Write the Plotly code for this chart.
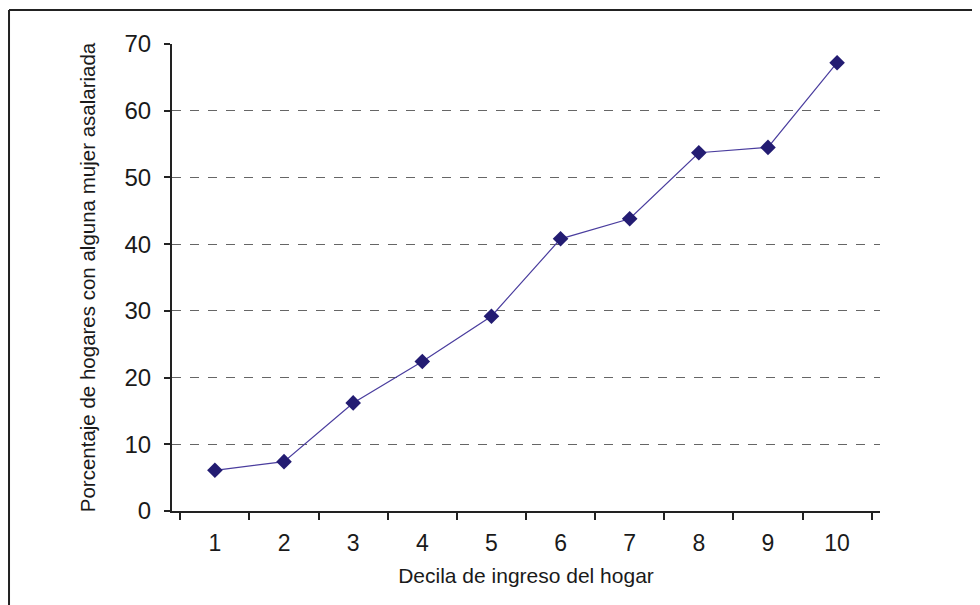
import plotly.graph_objects as go

deciles = ["1", "2", "3", "4", "5", "6", "7", "8", "9", "10"]
porcentaje = [6.1, 7.4, 16.2, 22.4, 29.2, 40.8, 43.8, 53.7, 54.5, 67.2]
y_ticks = [0, 10, 20, 30, 40, 50, 60, 70]

fig = go.Figure()
fig.add_trace(go.Scatter(
    x=deciles, y=porcentaje, mode="lines+markers",
    line=dict(color="#4A3D9E", width=1.2),
    marker=dict(symbol="diamond", size=12, color="#231C72"),
    showlegend=False, cliponaxis=False,
))

font = "Liberation Sans, Arial, sans-serif"
fig.update_layout(
    width=980, height=605,
    margin=dict(l=164, r=108, t=36, b=102),
    plot_bgcolor="white", paper_bgcolor="white",
    font=dict(family=font, color="#1a1a1a"),
    xaxis=dict(
        type="category", tickson="boundaries",
        ticks="outside", ticklen=7, tickwidth=1.5, tickcolor="#222",
        showline=True, linecolor="#222", linewidth=2,
        showgrid=False, tickfont=dict(size=23), ticklabelstandoff=10,
        title=dict(text="Decila de ingreso del hogar", font=dict(size=21), standoff=14),
    ),
    yaxis=dict(
        range=[0, 70], tickvals=y_ticks,
        ticks="outside", ticklen=6, tickwidth=1.5, tickcolor="#222",
        showline=True, linecolor="#222", linewidth=2,
        showgrid=True, gridcolor="#666", griddash="dash", gridwidth=1,
        zeroline=False, tickfont=dict(size=24), ticklabelstandoff=8,
        title=dict(text="Porcentaje de hogares con alguna mujer asalariada", font=dict(size=20.5), standoff=23),
    ),
    shapes=[
        dict(type="line", xref="paper", yref="paper", x0=-0.2302, x1=-0.2302, y0=1.0728, y1=-0.3,
             line=dict(color="#222", width=2)),
        dict(type="line", xref="paper", yref="paper", x0=-0.2302, x1=1.5, y0=1.0728, y1=1.0728,
             line=dict(color="#222", width=2)),
    ],
)
fig.write_html("out.html")
